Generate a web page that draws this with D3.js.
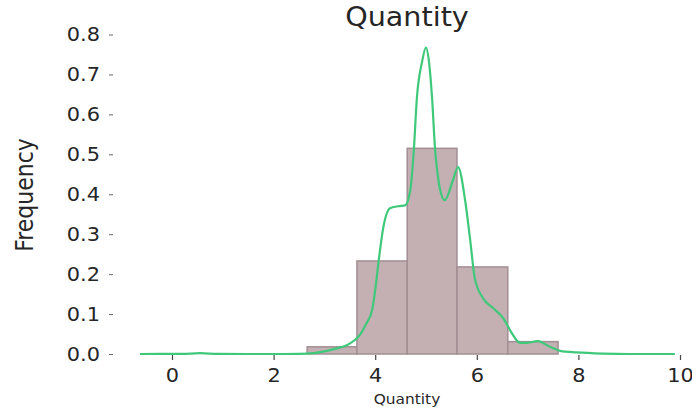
<!DOCTYPE html>
<html>
<head>
<meta charset="utf-8">
<script src="https://cdn.jsdelivr.net/npm/d3@7/dist/d3.min.js"></script>
<style>
  html, body { margin: 0; padding: 0; background: #fff; }
  svg { display: block; }
  text { font-family: "DejaVu Sans", sans-serif; fill: #262626; }
</style>
</head>
<body>
<svg id="chart" width="692" height="414"></svg>
<script>
// Histogram bins of Quantity (bin edges and normalised heights)
const binEdges = [2.66, 3.64, 4.63, 5.61, 6.61, 7.60];
const binHeights = [0.018, 0.233, 0.515, 0.218, 0.031];

// Kernel density estimate of Quantity
const kdeX = [-0.63, 0.2, 0.55, 0.9, 1.5, 2.0, 2.5, 2.78, 3.05, 3.25, 3.44, 3.6, 3.7, 3.82, 3.94, 4.0, 4.07,
              4.15, 4.29, 4.45, 4.59, 4.69, 4.76, 4.82, 4.92, 5.0, 5.06, 5.12, 5.18, 5.22, 5.28, 5.37,
              5.53, 5.63, 5.77, 5.87, 5.96, 6.12, 6.32, 6.52, 6.69, 6.85, 6.99, 7.2, 7.44, 7.64, 7.97,
              8.5, 9.0, 9.9];
const kdeY = [0.0, 0.0003, 0.002, 0.0003, 0.0, 0.0, 0.0005, 0.002, 0.008, 0.014, 0.022, 0.035, 0.048, 0.075, 0.11, 0.16, 0.235,
              0.31, 0.365, 0.37, 0.372, 0.41, 0.51, 0.64, 0.73, 0.767, 0.73, 0.64, 0.51, 0.46, 0.41, 0.385,
              0.435, 0.468, 0.385, 0.285, 0.19, 0.14, 0.115, 0.09, 0.052, 0.028, 0.028, 0.032, 0.018, 0.008, 0.004,
              0.001, 0.0, 0.0];

const xTicks = [0, 2, 4, 6, 8, 10];
const yTicks = [0.0, 0.1, 0.2, 0.3, 0.4, 0.5, 0.6, 0.7, 0.8];

const svg = d3.select("#chart");
const x = d3.scaleLinear().domain([-0.63, 10]).range([140, 680]);
const y = d3.scaleLinear().domain([0, 0.8]).range([354, 34.5]);

// text slightly widened horizontally
function stretched(sel, px, py, rot) {
  return sel.attr("transform", `translate(${px},${py})` + (rot ? ` rotate(${rot})` : "") + (rot ? " scale(1,1.1)" : " scale(1.1,1)"));
}

// bars
const bins = binHeights.map((h, i) => ({x0: binEdges[i], x1: binEdges[i + 1], h}));
svg.append("g").selectAll("rect").data(bins).join("rect")
  .attr("x", d => x(d.x0))
  .attr("y", d => y(d.h))
  .attr("width", d => x(d.x1) - x(d.x0))
  .attr("height", d => y(0) - y(d.h))
  .attr("fill", "#c4afb3")
  .attr("stroke", "#a28f93")
  .attr("stroke-width", 1.5);

// density curve
const pts = kdeX.map((v, i) => [v, kdeY[i]]);
svg.append("path")
  .datum(pts)
  .attr("fill", "none")
  .attr("stroke", "#3ec97a")
  .attr("stroke-width", 2.2)
  .attr("stroke-linejoin", "round")
  .attr("d", d3.line().x(d => x(d[0])).y(d => y(d[1])).curve(d3.curveMonotoneX));

// x axis (no spine)
const xAxis = svg.append("g").attr("transform", `translate(0,${y(0) + 1})`)
  .call(d3.axisBottom(x).tickValues(xTicks).tickFormat(d3.format("d")).tickSize(5).tickSizeOuter(0));
xAxis.select(".domain").remove();
xAxis.selectAll("line").attr("stroke", "#444").attr("stroke-width", 1.2);
xAxis.selectAll("text").attr("y", 0).attr("dy", 0).text("");
xAxis.selectAll(".tick").each(function(d) {
  stretched(d3.select(this).append("text"), 0, 27, 0)
    .attr("text-anchor", "middle")
    .attr("font-size", 19)
    .attr("fill", "#262626")
    .text(d3.format("d")(d));
});

// y axis (no spine)
const yAxis = svg.append("g").attr("transform", "translate(113,0)")
  .call(d3.axisLeft(y).tickValues(yTicks).tickFormat(d3.format(".1f")).tickSize(4).tickSizeOuter(0));
yAxis.select(".domain").remove();
yAxis.selectAll("line").attr("stroke", "#666").attr("stroke-width", 1);
yAxis.selectAll("text").text("");
yAxis.selectAll(".tick").each(function(d) {
  stretched(d3.select(this).append("text"), -13, 1, 0)
    .attr("text-anchor", "end")
    .attr("dominant-baseline", "middle")
    .attr("font-size", 19)
    .attr("fill", "#262626")
    .text(d3.format(".1f")(d));
});

// title and axis labels
stretched(svg.append("text"), 407, 26, 0)
  .attr("text-anchor", "middle").attr("font-size", 26).text("Quantity");
stretched(svg.append("text"), 407, 404, 0)
  .attr("text-anchor", "middle").attr("font-size", 14).text("Quantity");
stretched(svg.append("text"), 33, 195, -90)
  .attr("text-anchor", "middle").attr("font-size", 22).text("Frequency");
</script>
</body>
</html>
